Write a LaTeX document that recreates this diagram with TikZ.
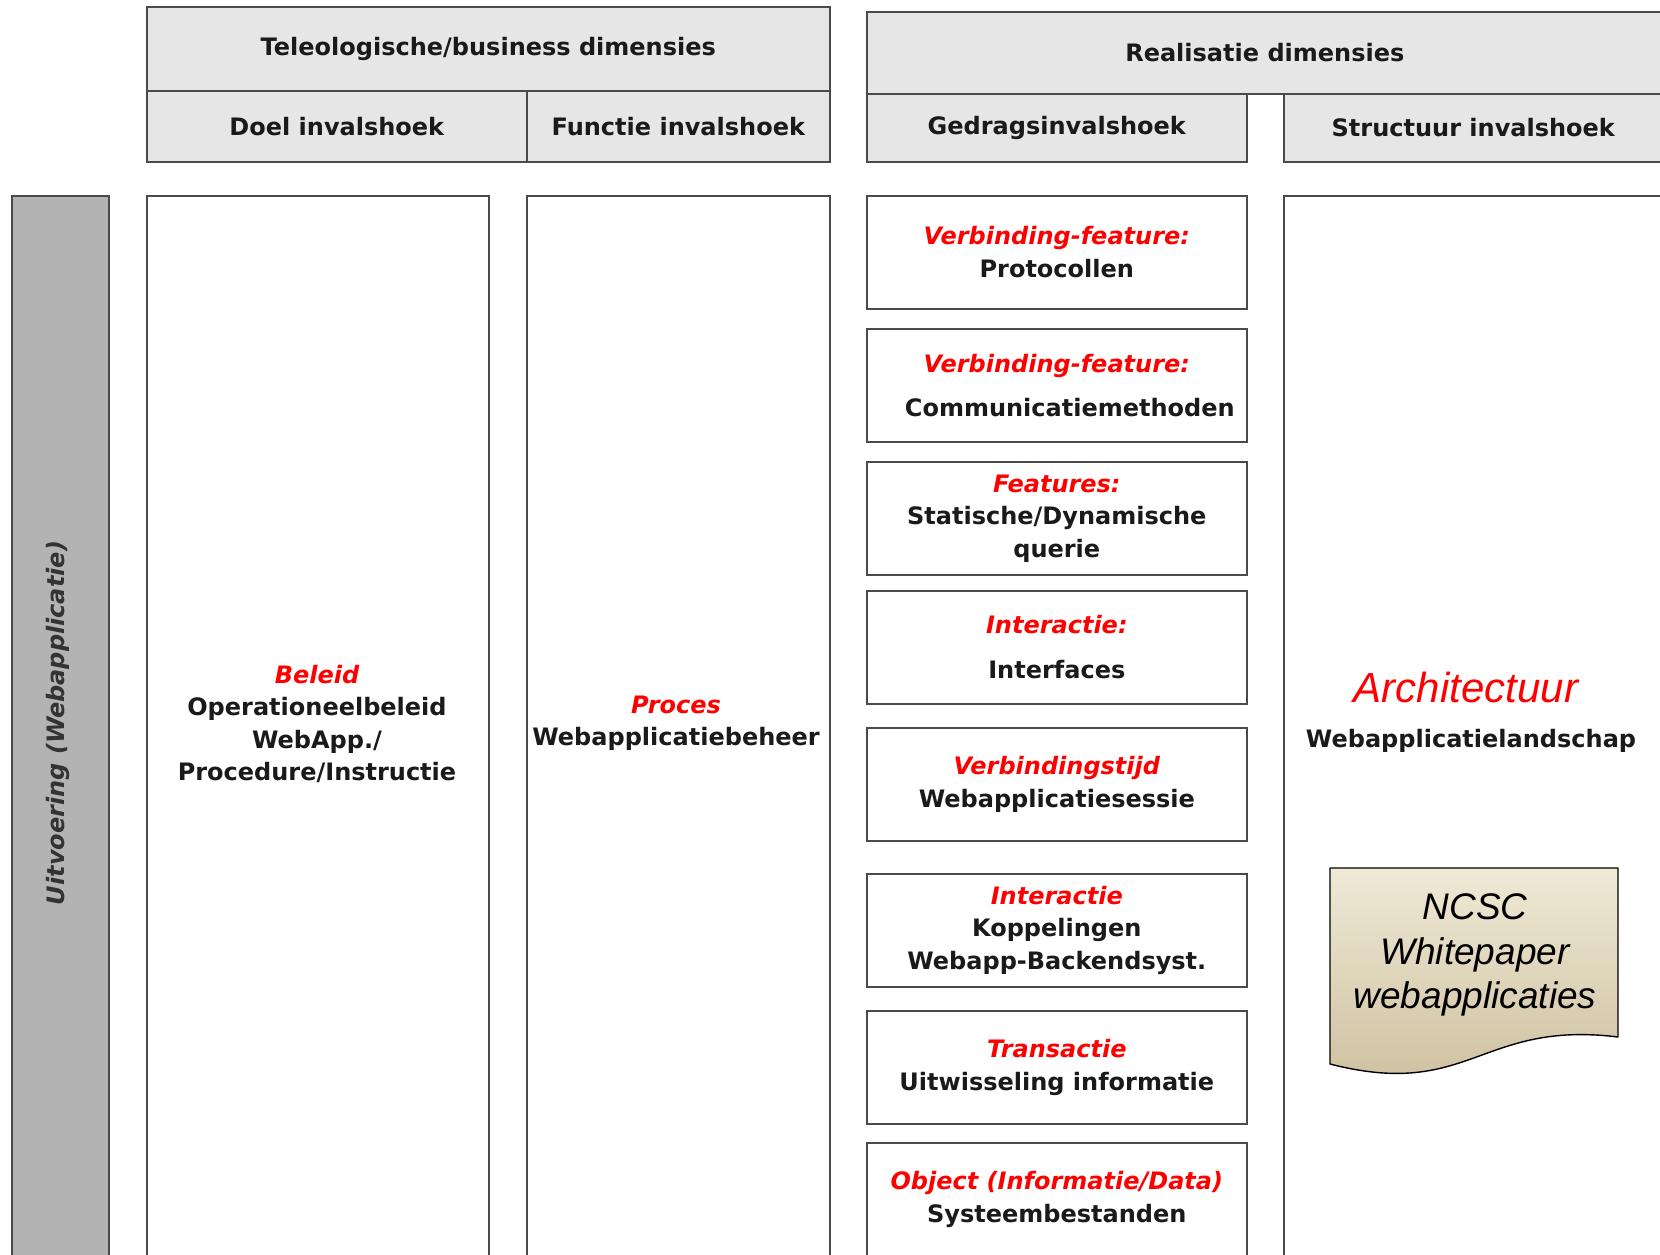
\documentclass[tikz,border=0pt]{standalone}
\usepackage{fontspec}
\setmainfont{DejaVu Sans}
\newfontfamily\arialfont{Liberation Sans}
\definecolor{hdrgray}{HTML}{E6E6E6}
\definecolor{bargray}{HTML}{B3B3B3}
\definecolor{edgegray}{HTML}{4A4A4A}
\definecolor{txtdark}{HTML}{1A1A1A}
\definecolor{docTop}{HTML}{EFE9D6}
\definecolor{docBot}{HTML}{CCBE9C}
\newcommand{\redit}[1]{\textcolor{red}{\itshape #1}}
\begin{document}
\begin{tikzpicture}[x=1pt,y=-1pt,
  box/.style={draw=edgegray, line width=1.6pt, inner sep=0pt, anchor=north west},
  hdr/.style={box, fill=hdrgray},
  lbl/.style={font=\fontsize{24}{32.5}\selectfont\bfseries, text=txtdark, align=center},
  gbox/.style={box, lbl, minimum width=380pt, minimum height=113pt},
  col/.style={box, minimum height=1080pt}
]
\useasboundingbox (0,0) rectangle (1660,1255);
\clip (0,0) rectangle (1660,1255);

% header: business dimensions
\node[hdr, lbl, minimum width=683pt, minimum height=84pt] (tel) at (146,6) {Teleologische/business dimensies};
\node[hdr, lbl, minimum width=380pt, minimum height=71pt] (doelh) at (146,90) {Doel invalshoek};
\node[hdr, lbl, minimum width=303pt, minimum height=71pt] (functh) at (526,90) {Functie invalshoek};

% header: realisation dimensions
\node[hdr, lbl, minimum width=796pt, minimum height=82pt] (real) at (866,11) {Realisatie dimensies};
\node[hdr, lbl, minimum width=380pt, minimum height=68pt] (gedragh) at (866,93) {Gedragsinvalshoek};
\node[hdr, lbl, minimum width=379pt, minimum height=68pt] (structh) at (1283,93) {Structuur invalshoek};

% side bar
\node[box, fill=bargray, minimum width=97pt, minimum height=1080pt] (bar) at (11,195) {};
\node[rotate=90, font=\fontsize{24}{28}\selectfont\bfseries\itshape, text=black!80] (bartxt) at (58,723) {Uitvoering (Webapplicatie)};

% columns
\node[col, minimum width=342pt] (doel) at (146,195) {};
\node[col, minimum width=303pt] (funct) at (526,195) {};
\node[col, minimum width=379pt] (struct) at (1283,195) {};

\node[lbl] (doeltxt) at (317,724) {\redit{Beleid}\\Operationeelbeleid\\WebApp./\\Procedure/Instructie};
\node[lbl] (functtxt) at (676,723) {\redit{Proces}\\Webapplicatiebeheer};

% behaviour boxes
\node[gbox] (g1) at (866,195) {\redit{Verbinding-feature:}\\Protocollen};
\node[gbox] (g2) at (866,328) {\redit{Verbinding-feature:}\\[12pt]\hspace*{26pt}Communicatiemethoden};
\node[gbox] (g3) at (866,461) {\redit{Features:}\\Statische/Dynamische\\querie};
\node[gbox] (g4) at (866,590) {\redit{Interactie:}\\[12.5pt]Interfaces};
\node[gbox] (g5) at (866,727) {\redit{Verbindingstijd}\\Webapplicatiesessie};
\node[gbox] (g6) at (866,873) {\redit{Interactie}\\Koppelingen\\Webapp-Backendsyst.};
\node[gbox] (g7) at (866,1010) {\redit{Transactie}\\Uitwisseling informatie};
\node[gbox] (g8) at (866,1142) {\redit{Object (Informatie/Data)}\\Systeembestanden};

% structure column content
\node[font=\arialfont\itshape\fontsize{42}{48}\selectfont, text=red, inner sep=0pt] (arch) at (1466,687) {Architectuur};
\node[lbl] (landschap) at (1471,741) {Webapplicatielandschap};

% document shape
\shade[top color=docTop, bottom color=docBot]
  (1330,868) -- (1618,868) -- (1618,1037)
  .. controls (1480,1020) and (1470,1100) .. (1330,1064) -- cycle;
\draw[black, line width=1.4pt, line join=round]
  (1330,868) -- (1618,868) -- (1618,1037)
  .. controls (1480,1020) and (1470,1100) .. (1330,1064) -- cycle;
\node[font=\arialfont\itshape\fontsize{37}{44.5}\selectfont, align=center] (ncsc) at (1475,955) {NCSC\\Whitepaper\\webapplicaties};
\end{tikzpicture}
\end{document}
